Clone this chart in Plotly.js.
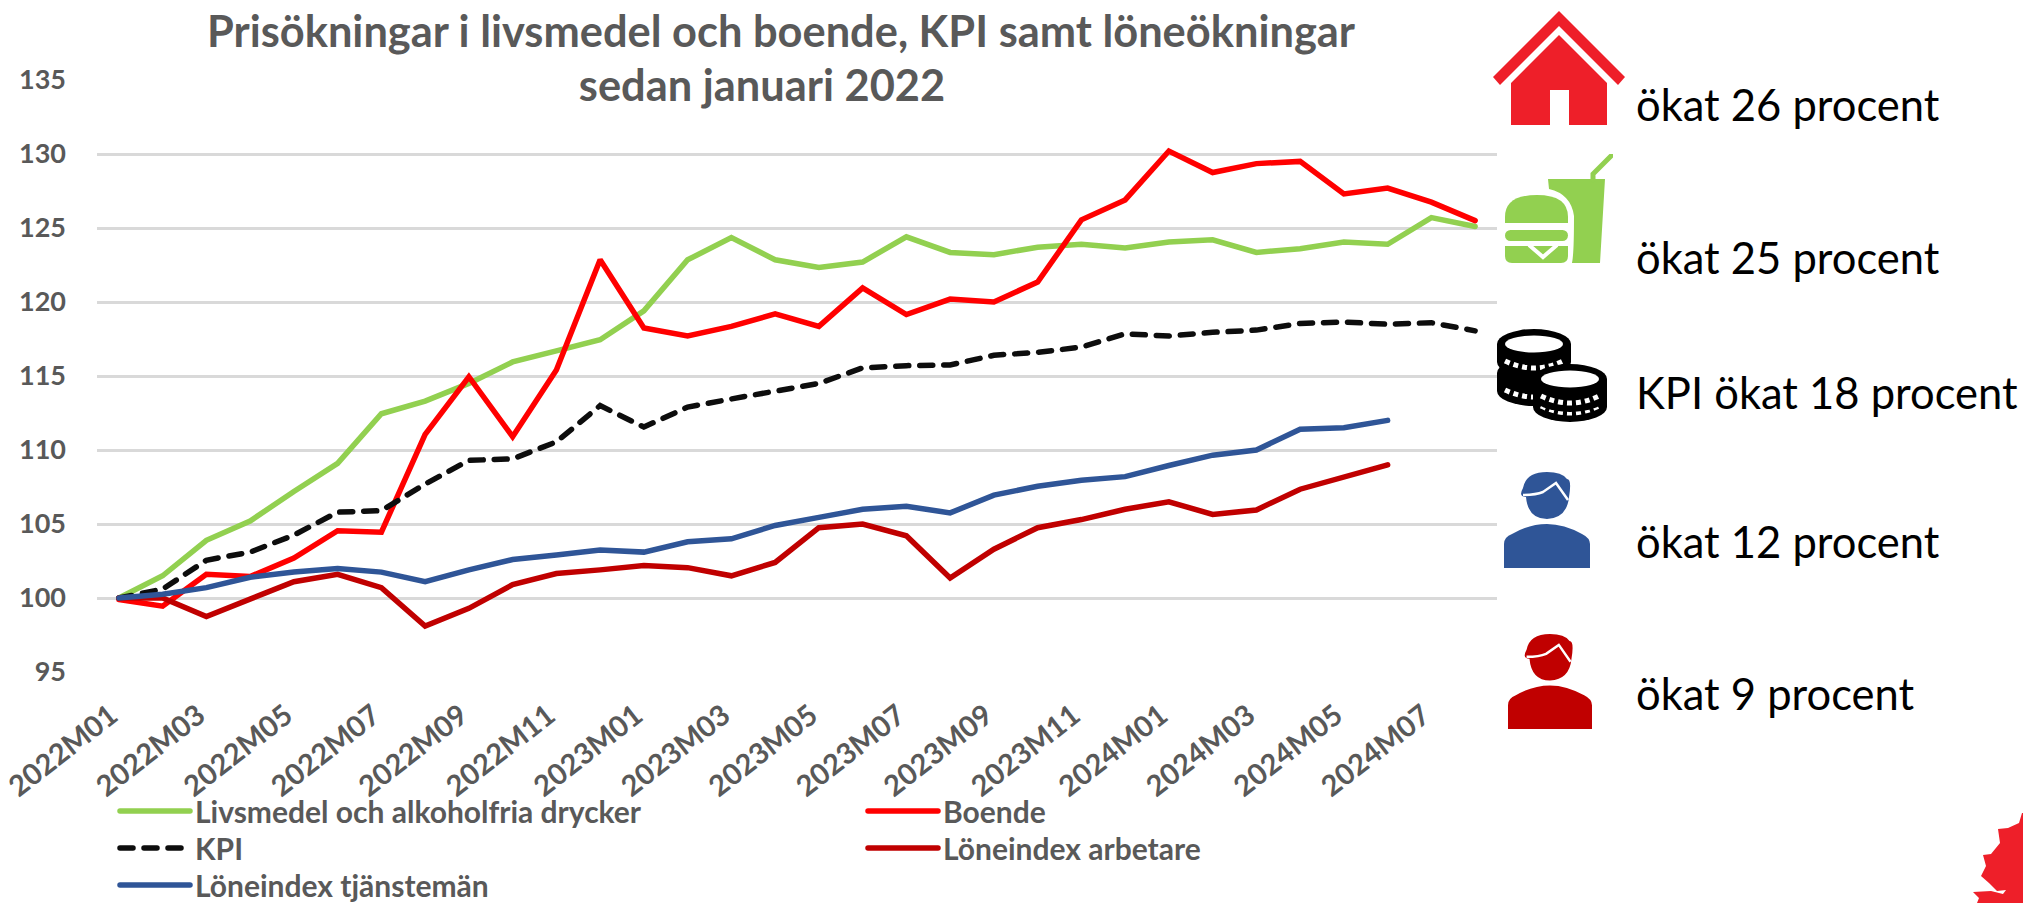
<!DOCTYPE html>
<html><head><meta charset="utf-8">
<script src="https://cdn.plot.ly/plotly-3.0.1.min.js"></script>
<style>html,body{margin:0;padding:0;background:#fff}#c{width:2023px;height:903px}</style>
</head><body><div id="c"></div>
<script>
const months = ["2022M01","2022M02","2022M03","2022M04","2022M05","2022M06","2022M07","2022M08","2022M09","2022M10","2022M11","2022M12",
"2023M01","2023M02","2023M03","2023M04","2023M05","2023M06","2023M07","2023M08","2023M09","2023M10","2023M11","2023M12",
"2024M01","2024M02","2024M03","2024M04","2024M05","2024M06","2024M07","2024M08"];
const livsmedel = [100,101.5,103.9,105.2,107.2,109.1,112.45,113.3,114.5,115.95,116.7,117.45,119.4,122.85,124.35,122.85,122.34,122.7,124.4,123.35,123.2,123.7,123.9,123.65,124.05,124.2,123.35,123.6,124.05,123.9,125.7,125.1];
const boende = [99.9,99.45,101.6,101.45,102.7,104.55,104.45,111.05,114.95,110.9,115.4,122.85,118.25,117.7,118.35,119.2,118.35,120.95,119.15,120.2,120,121.35,125.55,126.9,130.2,128.75,129.35,129.5,127.3,127.7,126.75,125.5];
const kpi = [100,100.6,102.55,103.1,104.25,105.8,105.9,107.7,109.3,109.4,110.55,113,111.55,112.9,113.45,114,114.5,115.55,115.7,115.75,116.4,116.6,116.95,117.85,117.7,117.95,118.1,118.55,118.65,118.5,118.6,118.05];
const arbetare = [100,100,98.75,99.9,101.1,101.6,100.7,98.1,99.3,100.9,101.65,101.9,102.2,102.05,101.5,102.4,104.75,105,104.2,101.35,103.3,104.75,105.3,106,106.5,105.65,105.95,107.35,108.2,109];
const tjansteman = [100,100.25,100.7,101.4,101.75,102,101.75,101.1,101.9,102.6,102.9,103.25,103.1,103.8,104,104.9,105.45,105.99,106.2,105.75,106.95,107.55,107.95,108.2,108.95,109.65,110,111.4,111.5,112];
const seriesNames = ["Livsmedel och alkoholfria drycker","Boende","KPI","Löneindex arbetare","Löneindex tjänstemän"];
const callouts = ["ökat 26 procent","ökat 25 procent","KPI ökat 18 procent","ökat 12 procent","ökat 9 procent"];
const titleText = "Prisökningar i livsmedel och boende, KPI samt löneökningar<br>sedan januari 2022";

const W=2023,H=903,L=97,AXR=1497,T=80,B=672,PW=W-L;
const px=x=>(x-L)/PW, py=y=>(B-y)/(B-T);
const FONT='Lato, "Open Sans", sans-serif';
const GREY='#595959';
function uri(vb,body){return 'data:image/svg+xml;charset=utf-8,'+encodeURIComponent('<svg xmlns="http://www.w3.org/2000/svg" viewBox="'+vb+'" preserveAspectRatio="none">'+body+'</svg>');}
function img(src,x0,y0,x1,y1){return {source:src,xref:'paper',yref:'paper',x:px(x0),y:py(y0),sizex:(x1-x0)/PW,sizey:(y1-y0)/(B-T),sizing:'stretch',xanchor:'left',yanchor:'top',layer:'above'};}

const house=uri('0 0 132 114','<path fill="#ee1f29" d="M66 0 L132 66 L125 74 L66 15 L7 74 L0 66 Z"/><path fill="#ee1f29" d="M66 24 L114 72 L114 114 L76 114 L76 79 L57 79 L57 114 L18 114 L18 72 Z"/>');
const food=uri('0 0 108 109','<g fill="#92d050"><path d="M43 25 L100 25 L95 109 L67 109 Q69 100 69 62 Q66 40 44 35 Z"/><path d="M0 63 Q0 41 32 41 Q63 41 63 63 L63 69 L0 69 Z"/><rect x="0" y="76" width="63" height="11" rx="5.5"/><path d="M0 92 L63 92 L63 102 Q63 109 56 109 L7 109 Q0 109 0 102 Z"/></g><path d="M24 91 L38 103 L52 91" fill="none" stroke="#fff" stroke-width="4"/><path d="M88 26 L88 20 L107 1" fill="none" stroke="#92d050" stroke-width="5" stroke-linecap="round"/>');
function coin(cx,cy,inner){return '<path d="M'+(cx-37)+' '+cy+' a37 15 0 0 1 74 0 v18 a37 15 0 0 1 -74 0 z" fill="#000"/>'+(inner?'<ellipse cx="'+cx+'" cy="'+cy+'" rx="29" ry="8.5" fill="#fff"/>':'')+'<path d="M'+(cx-29)+' '+(cy+17)+' Q'+cx+' '+(cy+31)+' '+(cx+29)+' '+(cy+17)+'" fill="none" stroke="#fff" stroke-width="5" stroke-dasharray="5 4"/>';}
const coins=uri('0 0 111 95',coin(37,44,false)+coin(37,15,true)+coin(73,60,false)+coin(73,50,true));
function person(c){return uri('0 0 86 96','<path fill="'+c+'" d="M43 0 Q58 0 63 7 Q68 7 65 25 Q63 46 43 47 Q24 47 22 25 Q14 25 19 16 Q22 0 43 0 Z"/><path d="M19 23 Q32 23 39 20 L52 11 L64 28" fill="none" stroke="#fff" stroke-width="2.5"/><path fill="'+c+'" d="M0 96 L0 72 Q0 65 8 62 Q25 52 43 52 Q60 52 78 62 Q86 66 86 72 L86 96 Z"/>');}
const leaf=uri('0 0 50 90','<path fill="#ee1f29" d="M49 0 L46 10 L35 15 L25 16 L27 30 L18 41 L10 42 L13 53 L8 63 L16 70 L24 78 L33 77 L30 81 L18 78 L0 79 L6 85 L4 90 L50 90 L50 0 Z"/>');

const images=[img(house,1493,11,1625,125),img(food,1505,154,1613,263),img(coins,1497,329,1608,424),img(person('#2f5597'),1504,472,1590,568),img(person('#c00000'),1508,634,1592,729),img(leaf,1973,813,2023,903)];
const calloutY=[104,257,392,541,693];
const annotations=callouts.map((t,i)=>({text:t,xref:'paper',yref:'paper',x:px(1634),y:py(calloutY[i]),xanchor:'left',yanchor:'middle',showarrow:false,align:'left',font:{family:FONT,size:43.5,color:'#000'}}));

const lineW=5.5;
const traces=[
 {y:livsmedel,color:'#92d050'},{y:boende,color:'#ff0000'},{y:kpi,color:'#0d0d0d',dash:'13px,11px'},{y:arbetare,color:'#c00000'},{y:tjansteman,color:'#2f5597'}
].map((s,i)=>({type:'scatter',mode:'lines',name:seriesNames[i],x:months.slice(0,s.y.length),y:s.y,line:{color:s.color,width:lineW,dash:s.dash||'solid',shape:'linear'},hoverinfo:'x+y+name'}));

const layout={width:W,height:H,autosize:false,paper_bgcolor:'#fff',plot_bgcolor:'#fff',showlegend:true,
 margin:{l:L,r:0,t:T,b:H-B,pad:0,autoexpand:false},
 title:{text:titleText,font:{family:FONT,size:43.4,weight:700,color:GREY},xref:'paper',x:px(781),xanchor:'center',yref:'container',y:1-47/H,yanchor:'middle'},
 xaxis:{domain:[0,(AXR-L)/PW],type:'category',categoryorder:'array',categoryarray:months,range:[-0.5,31.5],tick0:0,dtick:2,tickmode:'linear',tickangle:-38,showgrid:false,zeroline:false,showline:false,ticks:'',ticklabelstandoff:20,tickfont:{family:FONT,size:29,weight:700,color:GREY},automargin:false},
 yaxis:{range:[95,135],tick0:95,dtick:5,tickmode:'linear',showgrid:true,gridcolor:'#d9d9d9',gridwidth:2.5,zeroline:false,showline:false,ticks:'',ticklabelstandoff:30,tickfont:{family:FONT,size:27,weight:700,color:GREY},automargin:false},
 legend:{orientation:'h',x:px(115),xanchor:'left',y:py(785),yanchor:'top',entrywidth:660,entrywidthmode:'pixels',itemwidth:70,traceorder:'normal',font:{family:FONT,size:30,weight:700,color:GREY},bgcolor:'rgba(0,0,0,0)',itemclick:false,itemdoubleclick:false},
 images,annotations};

Plotly.newPlot('c',traces,layout,{displayModeBar:false,responsive:false}).then(gd=>{
 document.querySelectorAll('.js-line').forEach(p=>{p.style.strokeLinecap='round';});
 // Legend rows and columns are packed tighter than Plotly's own row height allows.
 const items=[...document.querySelectorAll('.legend .traces')];
 const m=items[0].getAttribute('transform').match(/translate\(([-\d.]+),\s*([-\d.]+)\)/);
 const x0=+m[1],y0=+m[2];
 items.forEach((el,i)=>el.setAttribute('transform','translate('+(x0+(i%2)*748)+','+(y0+Math.floor(i/2)*37)+')'));
 // The reference's second title line sits left of centre, closer to the first.
 const second=document.querySelectorAll('.gtitle tspan.line')[1];
 if(second){second.setAttribute('x',(+second.getAttribute('x')-19)+'');second.setAttribute('dy','54px');}
 // Nudge the rotated x labels to the reference's offset from their ticks.
 document.querySelectorAll('.xtick text').forEach(t=>{t.setAttribute('transform','translate(-8,0) '+(t.getAttribute('transform')||''));});
});
</script></body></html>
